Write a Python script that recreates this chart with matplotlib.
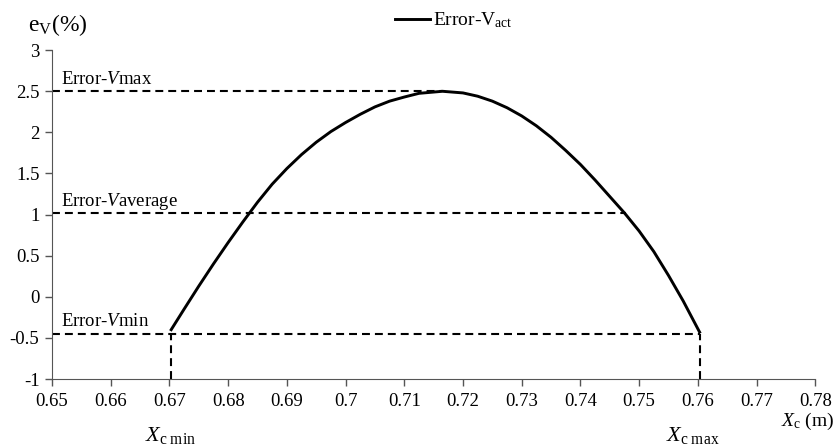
import matplotlib.pyplot as plt

plt.rcParams['font.family'] = ['Liberation Serif', 'DejaVu Serif']
plt.rcParams['mathtext.fontset'] = 'custom'
plt.rcParams['mathtext.rm'] = 'Liberation Serif'
plt.rcParams['mathtext.it'] = 'Liberation Serif:italic'

# error curve
xc = [0.6703, 0.6725, 0.675, 0.6775, 0.68, 0.6825, 0.685, 0.6875, 0.69, 0.6925,
      0.695, 0.6975, 0.70, 0.7025, 0.705, 0.7075, 0.71, 0.7125, 0.7165, 0.72,
      0.7225, 0.725, 0.7275, 0.73, 0.7325, 0.735, 0.7375, 0.74, 0.7425, 0.745,
      0.7475, 0.75, 0.7525, 0.755, 0.7575, 0.7603]
ev = [-0.40, -0.15, 0.13, 0.40, 0.66, 0.91, 1.15, 1.37, 1.56, 1.73,
      1.88, 2.01, 2.12, 2.22, 2.31, 2.38, 2.43, 2.475, 2.50, 2.48,
      2.44, 2.38, 2.30, 2.20, 2.08, 1.94, 1.78, 1.61, 1.42, 1.22,
      1.02, 0.80, 0.55, 0.26, -0.05, -0.43]

err_max = 2.5
err_avg = 1.02
err_min = -0.45
x_avg_right = 0.7478
x_peak = 0.7165
x_min = xc[0]
x_max = xc[-1]

xticks = [0.65, 0.66, 0.67, 0.68, 0.69, 0.70, 0.71, 0.72, 0.73, 0.74, 0.75, 0.76, 0.77, 0.78]
xticklabels = ['0.65', '0.66', '0.67', '0.68', '0.69', '0.7', '0.71', '0.72', '0.73', '0.74',
               '0.75', '0.76', '0.77', '0.78']
yticks = [-1, -0.5, 0, 0.5, 1, 1.5, 2, 2.5, 3]
yticklabels = ['-1', '-0.5', '0', '0.5', '1', '1.5', '2', '2.5', '3']

fig = plt.figure(figsize=(8.36, 4.48), dpi=100)
ax = fig.add_axes([0.0622, 0.154, 0.913, 0.734])

line, = ax.plot(xc, ev, color='black', lw=2.1, label=r'Error-V$_\mathrm{act}$', zorder=3,
                solid_joinstyle='round')

dash = dict(color='black', lw=1.5, dashes=(3.8, 2.4))
ax.plot([0.65, x_peak], [err_max, err_max], **dash)
ax.plot([0.65, x_avg_right], [err_avg, err_avg], **dash)
ax.plot([0.65, x_max], [err_min, err_min], **dash)
ax.plot([x_min, x_min], [-1, err_min], **dash)
ax.plot([x_max, x_max], [-1, err_min], **dash)

ax.set_xlim(0.65, 0.78)
ax.set_ylim(-1, 3)
ax.set_xticks(xticks)
ax.set_xticklabels(xticklabels)
ax.set_yticks(yticks)
ax.set_yticklabels(yticklabels)
ax.tick_params(labelsize=13.5, direction='out', length=5, width=1, colors='black', color='#555555')
ax.tick_params(axis='x', pad=5)
ax.tick_params(axis='y', pad=4)
for s in ['top', 'right']:
    ax.spines[s].set_visible(False)
for s in ['left', 'bottom']:
    ax.spines[s].set_color('#555555')

ax.text(0.6516, 2.59, r'Error-$\mathit{V}$max', fontsize=13.5)
ax.text(0.6516, 1.11, r'Error-$\mathit{V}$average', fontsize=13.5)
ax.text(0.6516, -0.36, r'Error-$\mathit{V}$min', fontsize=13.5)

fig.text(0.033, 0.93, r'e$_\mathrm{V}$(%)', fontsize=17)
fig.text(0.173, 0.027, r'$\mathit{X}_\mathrm{c\ min}$', fontsize=16, ha='left', va='center')
fig.text(0.797, 0.027, r'$\mathit{X}_\mathrm{c\ max}$', fontsize=16, ha='left', va='center')
fig.text(0.998, 0.06, r'$\mathit{X}_\mathrm{c}$ (m)', fontsize=14, ha='right', va='center')

fig.legend(handles=[line], loc='upper center', bbox_to_anchor=(0.543, 1.015), frameon=False,
           fontsize=14, handlelength=1.8, handletextpad=0.15)

fig.savefig('out.png', dpi=100)
